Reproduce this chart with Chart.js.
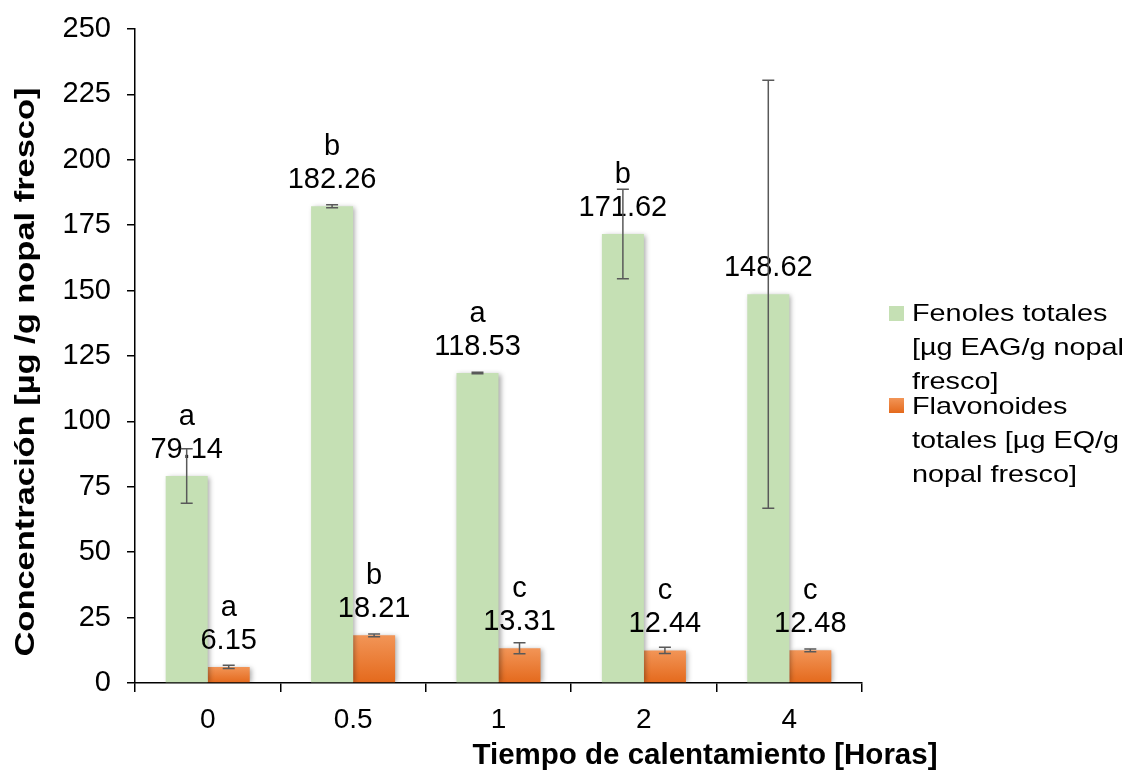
<!DOCTYPE html>
<html>
<head>
<meta charset="utf-8">
<script src="https://cdn.jsdelivr.net/npm/chart.js@4.4.1/dist/chart.umd.min.js"></script>
<style>
  html, body { margin: 0; padding: 0; background: #ffffff; }
  #wrap { position: relative; width: 1130px; height: 772px; }
  canvas { display: block; }
</style>
</head>
<body>
<div id="wrap"><canvas id="chart" width="1130" height="772"></canvas></div>
<script>
// Heating time categories (hours)
const categories = ['0', '0.5', '1', '2', '4'];

// Total phenolics [µg EAG/g fresh nopal]
const fenoles = [79.14, 182.26, 118.53, 171.62, 148.62];
const fenolesErr = [10.4, 0.6, 0.3, 17.1, 81.8];
const fenolesLetters = ['a', 'b', 'a', 'b', ''];

// Total flavonoids [µg EQ/g fresh nopal]
const flavonoides = [6.15, 18.21, 13.31, 12.44, 12.48];
const flavonoidesErr = [0.6, 0.5, 2.1, 1.2, 0.5];
const flavonoidesLetters = ['a', 'b', 'c', 'c', 'c'];

// Value axis range and step
const yMin = 0;
const yMax = 250;
const yStep = 25;

// Series names, one entry per legend line
const fenolesName = ['Fenoles totales', '[µg EAG/g nopal', 'fresco]'];
const flavonoidesName = ['Flavonoides', 'totales [µg EQ/g', 'nopal fresco]'];

const xTitle = 'Tiempo de calentamiento [Horas]';
const yTitle = 'Concentración [µg /g nopal fresco]';

const FONT = '"Liberation Sans", Arial, Helvetica, sans-serif';
const GREEN = '#c5e0b4';
const ORANGE_TOP = '#f29557';
const ORANGE_BOTTOM = '#e4691c';
const ERR_COLOR = '#595959';

// Per-bar vertical gradient for the flavonoid bars
function orangeFill(ctx) {
  const chart = ctx.chart;
  const y = chart.scales && chart.scales.y;
  if (!y || ctx.raw === undefined) return ORANGE_BOTTOM;
  const top = y.getPixelForValue(ctx.raw);
  const base = y.getPixelForValue(0);
  if (!isFinite(top) || !isFinite(base) || base - top < 1) return ORANGE_BOTTOM;
  const g = chart.ctx.createLinearGradient(0, top, 0, base);
  g.addColorStop(0, ORANGE_TOP);
  g.addColorStop(1, ORANGE_BOTTOM);
  return g;
}

// Soft drop shadow behind the bars
const barShadow = {
  id: 'barShadow',
  beforeDatasetDraw(chart) {
    const c = chart.ctx;
    c.save();
    c.shadowColor = 'rgba(0,0,0,0.35)';
    c.shadowBlur = 5;
    c.shadowOffsetX = 2;
    c.shadowOffsetY = 1;
  },
  afterDatasetDraw(chart) {
    chart.ctx.restore();
  }
};

// Value and significance letters above each bar, then error bars on top
const barAnnotations = {
  id: 'barAnnotations',
  afterDatasetsDraw(chart) {
    const c = chart.ctx;
    const yScale = chart.scales.y;
    const sets = [
      { values: fenoles, errs: fenolesErr, letters: fenolesLetters },
      { values: flavonoides, errs: flavonoidesErr, letters: flavonoidesLetters }
    ];
    c.save();
    c.fillStyle = '#000';
    c.textAlign = 'center';
    c.textBaseline = 'alphabetic';
    c.font = '29px ' + FONT;
    sets.forEach((s, di) => {
      const meta = chart.getDatasetMeta(di);
      meta.data.forEach((bar, i) => {
        const top = yScale.getPixelForValue(s.values[i]);
        c.fillText(s.values[i].toFixed(2), bar.x, top - 18);
        if (s.letters[i]) c.fillText(s.letters[i], bar.x, top - 51);
      });
    });
    c.strokeStyle = ERR_COLOR;
    c.lineWidth = 1.5;
    sets.forEach((s, di) => {
      const meta = chart.getDatasetMeta(di);
      meta.data.forEach((bar, i) => {
        const hi = yScale.getPixelForValue(s.values[i] + s.errs[i]);
        const lo = yScale.getPixelForValue(s.values[i] - s.errs[i]);
        const x = bar.x;
        c.beginPath();
        c.moveTo(x, hi); c.lineTo(x, lo);
        c.moveTo(x - 6, hi); c.lineTo(x + 6, hi);
        c.moveTo(x - 6, lo); c.lineTo(x + 6, lo);
        c.stroke();
      });
    });
    c.restore();
  }
};

// Axis titles and the multi-line legend at the right
const chartText = {
  id: 'chartText',
  afterDraw(chart) {
    const c = chart.ctx;
    c.save();
    c.fillStyle = '#000';
    c.font = 'bold 29.5px ' + FONT;
    c.textAlign = 'center';
    c.textBaseline = 'alphabetic';
    c.fillText(xTitle, 705, 764);

    c.save();
    c.translate(34, 372);
    c.rotate(-Math.PI / 2);
    c.font = 'bold 28px ' + FONT;
    c.scale(1.23, 1);
    c.fillText(yTitle, 0, 0);
    c.restore();

    const items = [
      { lines: fenolesName, color: GREEN, boxTop: 306, base: 321 },
      { lines: flavonoidesName, color: null, boxTop: 398, base: 414 }
    ];
    c.textAlign = 'left';
    c.font = '24px ' + FONT;
    items.forEach(it => {
      if (it.color) {
        c.fillStyle = it.color;
      } else {
        const g = c.createLinearGradient(0, it.boxTop, 0, it.boxTop + 15);
        g.addColorStop(0, ORANGE_TOP);
        g.addColorStop(1, ORANGE_BOTTOM);
        c.fillStyle = g;
      }
      c.fillRect(889, it.boxTop, 15, 15);
      c.fillStyle = '#000';
      it.lines.forEach((ln, k) => {
        c.save();
        c.translate(912, it.base + k * 34);
        c.scale(1.2, 1);
        c.fillText(ln, 0, 0);
        c.restore();
      });
    });
    c.restore();
  }
};

new Chart(document.getElementById('chart'), {
  type: 'bar',
  data: {
    labels: categories,
    datasets: [
      { label: fenolesName.join(' '), data: fenoles, backgroundColor: GREEN, borderWidth: 0 },
      { label: flavonoidesName.join(' '), data: flavonoides, backgroundColor: orangeFill, borderWidth: 0 }
    ]
  },
  options: {
    responsive: false,
    animation: false,
    events: [],
    layout: { padding: { top: 29, right: 268, left: 0, bottom: 0 } },
    datasets: { bar: { categoryPercentage: 0.578, barPercentage: 1.0 } },
    plugins: { legend: { display: false }, tooltip: { enabled: false }, title: { display: false } },
    scales: {
      x: {
        grid: { display: true, drawOnChartArea: false, drawTicks: true, tickLength: 9, color: '#000', lineWidth: 1.5, offset: true },
        border: { display: true, color: '#000', width: 1.5 },
        ticks: { color: '#000', font: { family: FONT, size: 28 }, padding: 11, maxRotation: 0 },
        afterFit(scale) { scale.height = 89; }
      },
      y: {
        min: yMin,
        max: yMax,
        grid: { display: true, drawOnChartArea: false, drawTicks: true, tickLength: 8, color: '#000', lineWidth: 1.5 },
        border: { display: true, color: '#000', width: 1.5 },
        ticks: { stepSize: yStep, color: '#000', font: { family: FONT, size: 29 }, padding: 16 },
        afterFit(scale) {
          scale.width = 135;
          scale.paddingTop = 0;
          scale.paddingBottom = 0;
        }
      }
    }
  },
  plugins: [barShadow, barAnnotations, chartText]
});
</script>
</body>
</html>
